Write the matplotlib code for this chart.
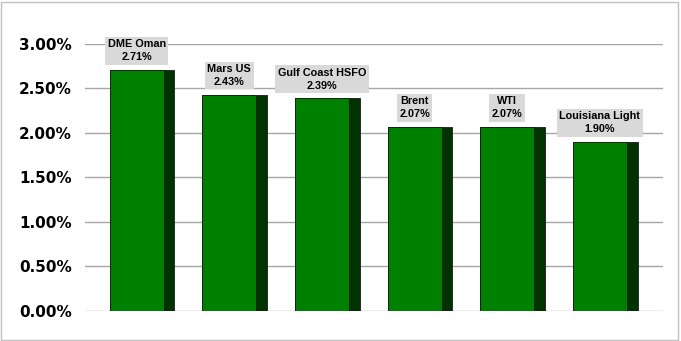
import matplotlib.pyplot as plt
from matplotlib.patches import Rectangle
from matplotlib.ticker import FuncFormatter

# --------------------------------------------------------------------------------

names = ['DME Oman', 'Mars US', 'Gulf Coast HSFO', 'Brent', 'WTI', 'Louisiana Light']
values = [2.71, 2.43, 2.39, 2.07, 2.07, 1.90]
yticks = [0.0, 0.5, 1.0, 1.5, 2.0, 2.5, 3.0]

front = '#008000'
side = '#003300'

fig = plt.figure(figsize=(6.81, 3.41), dpi=100)
ax = fig.add_axes([0.125, 0.088, 0.8486, 0.783])

x = list(range(len(names)))
w_all = 0.70
w_front = 0.585

# dark side + green face for the 3D look
ax.bar(x, values, width=w_all, color=side, edgecolor='#1a1a1a', linewidth=0.6, zorder=2)
left = [i - w_all / 2 for i in x]
ax.bar(left, values, width=w_front, align='edge', color=front, edgecolor='#1a1a1a',
       linewidth=0.6, zorder=3)

for i, (n, v) in enumerate(zip(names, values)):
    cx = left[i] + w_front / 2
    ax.annotate(f"{n}\n{v:.2f}%", (cx, v), xytext=(0, 5.5), textcoords='offset points',
                ha='center', va='bottom', fontsize=7.8, fontweight='bold',
                family='Liberation Sans', linespacing=1.35, annotation_clip=False,
                bbox=dict(boxstyle='square,pad=0.22', fc='#d9d9d9', ec='none'), zorder=5)

ax.set_xlim(-0.615, 5.625)
ax.set_ylim(0, 3.0)
ax.set_yticks(yticks)
ax.yaxis.set_major_formatter(FuncFormatter(lambda v, p: f"{v:.2f}%"))
ax.set_xticks([])
ax.grid(axis='y', color='#a6a6a6', linewidth=1, zorder=0)
ax.tick_params(axis='y', length=0, pad=9.5, labelsize=11)
for lab in ax.get_yticklabels():
    lab.set_fontweight('bold')
for s in ax.spines.values():
    s.set_visible(False)

fig.patches.append(Rectangle((0.002, 0.004), 0.994, 0.99, transform=fig.transFigure,
                             fill=False, ec='#bfbfbf', lw=1))

fig.savefig('out.png', dpi=100)
